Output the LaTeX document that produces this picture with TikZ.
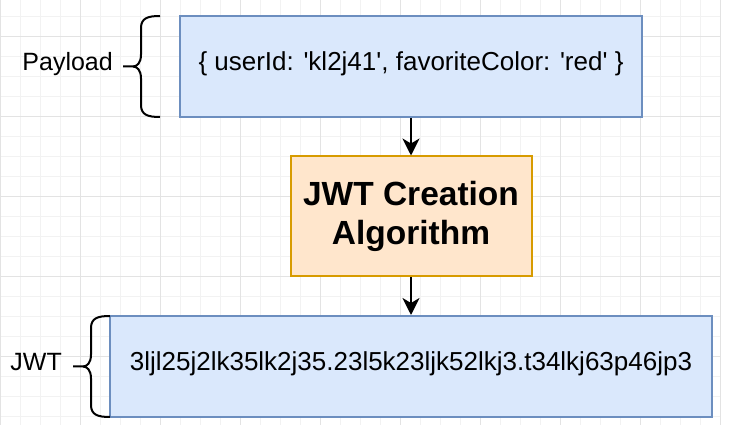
\documentclass[tikz,border=0pt]{standalone}
\usepackage{fontspec}
\setmainfont{Liberation Sans}
\usetikzlibrary{arrows.meta,positioning}
\definecolor{BoxBlue}{HTML}{DAE8FC}
\definecolor{EdgeBlue}{HTML}{6C8EBF}
\definecolor{BoxOrange}{HTML}{FFE6CC}
\definecolor{EdgeOrange}{HTML}{D79B00}
\definecolor{GridMinor}{HTML}{F2F2F2}
\definecolor{GridMajor}{HTML}{E3E3E3}
\newcommand{\sq}{\textquotesingle}

\tikzset{
  databox/.style={draw=EdgeBlue,fill=BoxBlue,line width=2pt,inner sep=0pt,
    text height=0.72em,text depth=0pt,font=\fontsize{26}{31}\selectfont},
  algobox/.style={draw=EdgeOrange,fill=BoxOrange,line width=2pt,inner sep=0pt,
    align=center,font=\fontsize{33.5}{39}\selectfont\bfseries},
  flow/.style={line width=2pt,-{Stealth[length=17pt,width=17pt,inset=5pt]}},
  curly/.style={line width=2pt,line join=round},
  lbl/.style={inner sep=0pt,text height=0.72em,text depth=0pt,
    font=\fontsize{25}{30}\selectfont}
}

\begin{document}
\begin{tikzpicture}[x=1pt,y=-1pt]
    \useasboundingbox (0,0) rectangle (740,438);
    \fill[white] (0,0) rectangle (740,438);

    % grid
    \foreach \i in {0,...,36} \draw[GridMinor,line width=1pt] (20*\i,0) -- (20*\i,425);
    \foreach \i in {0,...,20} \draw[GridMinor,line width=1pt] (0,16.7+20*\i) -- (720,16.7+20*\i);
    \foreach \i in {0,...,9} \draw[GridMajor,line width=1pt] (80*\i,0) -- (80*\i,425);
    \foreach \i in {0,...,4} \draw[GridMajor,line width=1pt] (0,36.7+80*\i) -- (720,36.7+80*\i);

    \node[databox,minimum width=462pt,minimum height=101pt] (payload) at (411,66.5) {\{ userId: \sq kl2j41\sq, favoriteColor: \sq red\sq\ \}};
    \node[algobox,minimum width=241pt,minimum height=120pt] (algo) at (411,216.5) {JWT Creation\\Algorithm};
    \node[databox,minimum width=602pt,minimum height=101pt] (token) at (411,366.5) {3ljl25j2lk35lk2j35.23l5k23ljk52lkj3.t34lkj63p46jp3};

    \draw[flow] (payload) -- (algo);
    \draw[flow] (algo) -- (token);

    % braces
    \begin{scope}[shift={(160,16)}]
      \coordinate (payloadtip) at (-37,50.5);
      \draw[curly] (0,0) .. controls (-12,0) and (-19,2) .. (-19,12) -- (-19,38.5)
        .. controls (-19,47) and (-23,50.5) .. (-27,50.5) -- (payloadtip);
      \draw[curly] (-27,50.5) .. controls (-23,50.5) and (-19,54) .. (-19,62.5) -- (-19,89)
        .. controls (-19,99) and (-12,101) .. (0,101);
    \end{scope}
    \begin{scope}[shift={(110,316)}]
      \coordinate (tokentip) at (-37,50.5);
      \draw[curly] (0,0) .. controls (-12,0) and (-19,2) .. (-19,12) -- (-19,38.5)
        .. controls (-19,47) and (-23,50.5) .. (-27,50.5) -- (tokentip);
      \draw[curly] (-27,50.5) .. controls (-23,50.5) and (-19,54) .. (-19,62.5) -- (-19,89)
        .. controls (-19,99) and (-12,101) .. (0,101);
    \end{scope}

    \node[lbl,left=10pt of payloadtip] (payloadlbl) {Payload};
    \node[lbl,left=11pt of tokentip] (tokenlbl) {JWT};
  \end{tikzpicture}
\end{document}
